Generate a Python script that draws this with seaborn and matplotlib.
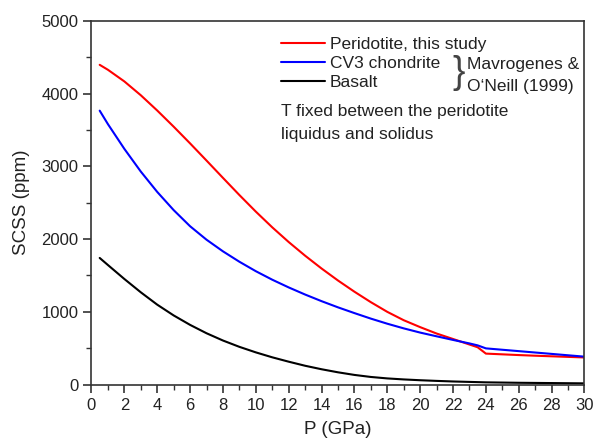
import numpy as np
import pandas as pd
import matplotlib
matplotlib.use("Agg")
import matplotlib.pyplot as plt
import seaborn as sns
from matplotlib.ticker import MultipleLocator

pressure = [0.5, 1, 2, 3, 4, 5, 6, 7, 8, 9, 10, 11, 12, 13, 14, 15, 16, 17, 18, 19,
            20, 21, 22, 23, 23.5, 24, 25, 26, 27, 28, 29, 30]
peridotite = [4395, 4327, 4167, 3977, 3767, 3545, 3315, 3079, 2841, 2605, 2377, 2161,
              1959, 1771, 1595, 1430, 1276, 1132, 999, 884, 789, 701, 626, 550, 512,
              425, 415, 405, 396, 388, 380, 372]
cv3 = [3765, 3580, 3240, 2928, 2648, 2398, 2176, 1991, 1831, 1688, 1558, 1441, 1335,
       1237, 1146, 1061, 982, 906, 836, 772, 714, 663, 613, 565, 538, 497, 478, 459,
       440, 421, 402, 383]
basalt = [1740, 1643, 1451, 1268, 1098, 950, 820, 705, 605, 518, 442, 374, 314, 258,
          210, 168, 132, 104, 84, 70, 59, 50, 42, 36, 33, 30, 27, 24, 22, 20, 18, 16]

labels = ["Peridotite, this study", "CV3 chondrite", "Basalt"]
colors = ["#ff0000", "#0000ff", "#000000"]

df = pd.concat([
    pd.DataFrame({"P": pressure, "SCSS": peridotite, "series": labels[0]}),
    pd.DataFrame({"P": pressure, "SCSS": cv3, "series": labels[1]}),
    pd.DataFrame({"P": pressure, "SCSS": basalt, "series": labels[2]}),
])

sns.set_style("ticks")
plt.rcParams["font.family"] = ["Liberation Sans", "DejaVu Sans"]

fig = plt.figure(figsize=(5.94, 4.43), dpi=100)
ax = fig.add_axes([0.154, 0.132, 0.830, 0.821])

sns.lineplot(data=df, x="P", y="SCSS", hue="series", palette=colors,
             hue_order=labels, estimator=None, sort=False, lw=1.5, ax=ax)

ax.set_xlim(0, 30)
ax.set_ylim(0, 5000)
ax.xaxis.set_major_locator(MultipleLocator(2))
ax.xaxis.set_minor_locator(MultipleLocator(1))
ax.yaxis.set_major_locator(MultipleLocator(1000))
ax.yaxis.set_minor_locator(MultipleLocator(500))
ax.tick_params(which="major", direction="out", length=6, width=1.2, labelsize=12,
               color="#333333", labelcolor="#222222", top=False, right=False)
ax.tick_params(which="minor", direction="out", length=3.5, width=1.0, color="#333333",
               top=False, right=False)
for s in ax.spines.values():
    s.set_linewidth(1.2)
    s.set_color("#333333")
    s.set_visible(True)

ax.set_xlabel("P (GPa)", fontsize=13.5, color="#222222", labelpad=6)
ax.set_ylabel("SCSS (ppm)", fontsize=13.5, color="#222222", labelpad=8)

leg = ax.legend(loc="upper left", bbox_to_anchor=(0.378, 0.966), frameon=False,
                fontsize=12.5, handlelength=2.5, handletextpad=0.3,
                labelspacing=0.22, borderaxespad=0, borderpad=0.2)
for t in leg.get_texts():
    t.set_color("#222222")

ax.text(0.733, 0.856, "}", transform=ax.transAxes, fontsize=27, ha="left", va="center",
        color="#444444")
ax.text(0.762, 0.88, "Mavrogenes &", transform=ax.transAxes, fontsize=12.5,
        ha="left", va="center", color="#222222")
ax.text(0.762, 0.82, "O\u2018Neill (1999)", transform=ax.transAxes, fontsize=12.5,
        ha="left", va="center", color="#222222")
ax.text(0.385, 0.77, "T fixed between the peridotite\nliquidus and solidus",
        transform=ax.transAxes, fontsize=12.5, ha="left", va="top",
        color="#222222", linespacing=1.6)

fig.savefig("out.png", dpi=100)
